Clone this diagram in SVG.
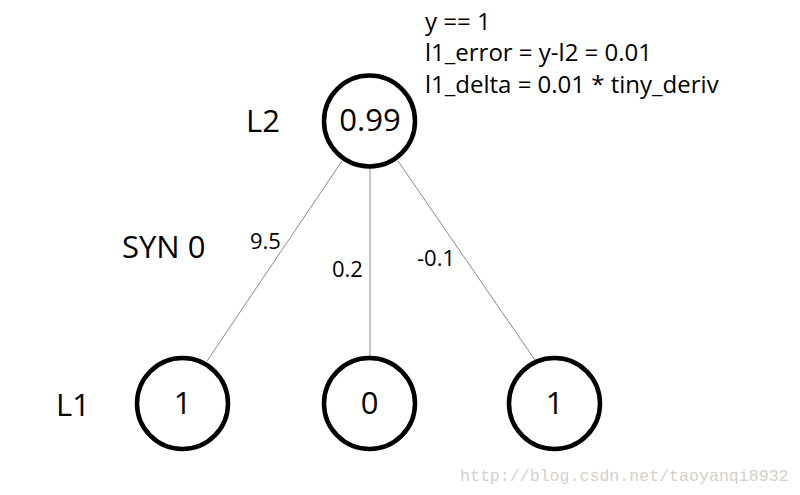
<svg xmlns="http://www.w3.org/2000/svg" width="800" height="495" viewBox="0 0 800 495">
<style>
.node{fill:none;stroke:#000;stroke-width:4.5}
.big{font-family:"Open Sans","Noto Sans",sans-serif;font-size:31px;fill:#000}
.w{font-family:"Open Sans","Noto Sans",sans-serif;font-size:22px;fill:#000}
.info{font-family:"Open Sans","Noto Sans",sans-serif;font-size:24px;fill:#000}
.edge{stroke:#8a8a8a;stroke-width:1;fill:none}
.wm{font-family:"Liberation Mono",monospace;font-size:16.6px;fill:#d3d0ca}
</style>
<rect width="800" height="495" fill="#fff"/>
<g id="connectors">
<line class="edge" x1="342" y1="161" x2="207" y2="361"/>
<line class="edge" x1="370" y1="166" x2="370" y2="357"/>
<line class="edge" x1="398" y1="161" x2="535" y2="360"/>
</g>
<g id="L2">
<circle class="node" cx="369.5" cy="121" r="45.5"/>
<text class="big" x="370" y="131" text-anchor="middle">0.99</text>
</g>
<g id="L1a">
<circle class="node" cx="182.5" cy="403.5" r="45.5"/>
<text class="big" x="182.5" y="414" text-anchor="middle">1</text>
</g>
<g id="L1b">
<circle class="node" cx="369.5" cy="403.5" r="45.5"/>
<text class="big" x="369.5" y="414" text-anchor="middle">0</text>
</g>
<g id="L1c">
<circle class="node" cx="554.5" cy="403.5" r="45.5"/>
<text class="big" x="554.5" y="414" text-anchor="middle">1</text>
</g>
<g id="labels">
<text class="big" x="246" y="132">L2</text>
<text class="big" x="122" y="258">SYN 0</text>
<text class="big" x="56" y="415.5">L1</text>
<text class="w" x="250" y="248.5">9.5</text>
<text class="w" x="332" y="276.5">0.2</text>
<text class="w" x="417" y="265.5">-0.1</text>
<text class="info" x="425" y="29.5">y == 1</text>
<text class="info" x="425" y="61">l1_error = y-l2 = 0.01</text>
<text class="info" x="425" y="92.5">l1_delta = 0.01 * tiny_deriv</text>
<text class="wm" x="460" y="480.5">http://blog.csdn.net/taoyanqi8932</text>
</g>
</svg>
